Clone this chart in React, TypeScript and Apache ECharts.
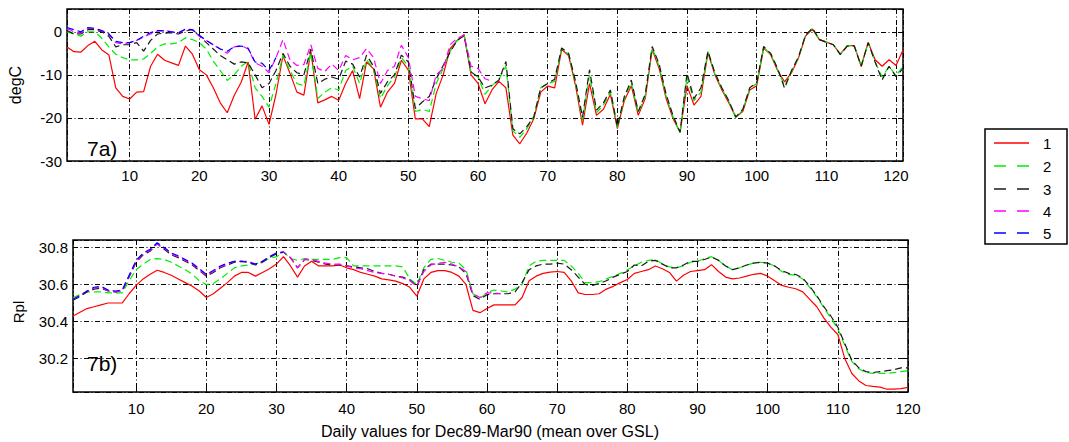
import React, { useEffect, useRef } from "react";
import * as echarts from "echarts";

// ---------- data ----------
// 7a) temperature (degC), days 1..121
const temp1: (number | null)[] = [
  -3.5, -4.6, -4.7, -3.2, -2.2, -4.2, -5.3, -13.0, -15.0, -15.6,
  -14.0, -13.9, -8.0, -5.2, -6.6, -7.2, -7.8, -3.3, -5.2, -8.8,
  -10.0, -13.0, -16.5, -18.8, -14.8, -11.7, -7.0, -20.3, -17.2, -21.5,
  -14.5, -5.5, -9.6, -14.0, -14.7, -4.5, -16.5, -15.8, -15.0, -15.9,
  -12.0, -9.0, -15.5, -7.0, -8.6, -17.5, -14.0, -12.0, -6.6, -8.9,
  -20.2, -20.2, -22.0, -14.3, -10.0, -3.9, -2.0, -0.6, -10.0, -12.0,
  -16.7, -13.5, -11.5, -13.0, -24.0, -26.0, -23.5, -20.2, -14.0, -12.6,
  -13.0, -4.1, -5.5, -12.5, -21.7, -12.0, -19.4, -18.0, -14.5, -22.5,
  -16.0, -12.5, -19.4, -15.5, -4.1, -8.5, -15.5, -20.2, -23.3, -12.5,
  -17.0, -15.0, -4.9, -10.0, -13.5, -16.5, -19.8, -18.5, -13.5, -12.5,
  -3.8, -5.3, -9.0, -11.6, -9.5, -6.1, -1.0, 0.6, -1.8, -2.4,
  -3.0, -5.2, -3.2, -3.2, -8.0, -2.5, -6.5, -8.0, -6.5, -7.8,
  -4.2,
];
const temp2: (number | null)[] = [
  0.0, -0.5, -1.0, 0.0, 0.0, -1.5, -3.5, -5.2, -6.0, -6.5,
  -6.5, -6.3, -5.0, -3.5, -2.8, -2.8, -2.5, -1.4, -1.8, -2.5,
  -4.0, -6.8, -9.0, -11.3, -10.0, -8.0, -6.9, -13.0, -15.0, -17.5,
  -12.0, -5.5, -9.0, -12.0, -12.5, -4.8, -15.5, -14.0, -13.0, -13.5,
  -9.0, -8.0, -12.0, -6.5, -8.5, -15.5, -12.5, -10.5, -6.0, -8.0,
  -18.5, -18.0, -18.5, -12.0, -8.5, -4.5, -2.0, -0.8, -9.5, -10.5,
  -14.5, -12.5, -11.0, -8.0, -23.0, -24.5, -22.5, -19.8, -13.0, -12.0,
  -11.5, -4.0, -5.2, -12.0, -20.5, -10.0, -18.8, -17.0, -14.0, -22.3,
  -15.5, -11.8, -18.8, -15.0, -3.8, -8.0, -15.0, -19.8, -23.5, -10.5,
  -16.0, -14.0, -4.6, -9.8, -13.2, -16.2, -20.0, -18.2, -13.2, -12.0,
  -3.6, -5.2, -8.8, -12.5, -9.2, -6.0, -0.9, 0.8, -1.8, -2.4,
  -3.0, -5.2, -3.2, -3.2, -8.0, -2.5, -7.0, -10.5, -8.0, -10.2,
  -8.0,
];
const temp3: (number | null)[] = [
  0.3, -0.5, -0.5, 0.5, 0.5, 0.0, -1.0, -3.5, -3.0, -3.0,
  -2.5, -4.5, -2.0, -0.5, -0.3, -0.2, -0.5, 0.2, 0.5, -1.0,
  -2.5, -4.0, -5.5, -6.5, -7.5, -7.0, -7.2, -10.0, -13.0, -12.0,
  -9.0, -5.0, -8.0, -9.5, -10.0, -4.0, -12.0, -11.0, -10.5, -11.0,
  -6.8, -7.5, -10.5, -5.4, -8.0, -14.3, -11.6, -10.0, -5.4, -7.0,
  -17.8, -16.3, -15.0, -10.9, -7.8, -4.7, -2.0, -0.9, -9.3, -10.5,
  -13.0, -12.4, -11.2, -6.9, -22.5, -23.7, -22.0, -19.8, -13.0, -12.0,
  -11.0, -3.75, -5.0, -11.5, -19.8, -8.8, -18.2, -16.5, -13.5, -22.0,
  -15.0, -11.2, -18.5, -14.5, -3.4, -7.5, -14.5, -19.5, -23.3, -9.6,
  -15.5, -13.0, -4.5, -9.5, -13.0, -16.0, -19.8, -18.0, -13.0, -11.8,
  -3.4, -5.0, -8.5, -13.1, -9.0, -5.8, -0.8, 0.9, -1.8, -2.4,
  -3.0, -5.3, -3.3, -3.3, -8.0, -2.5, -7.0, -11.2, -8.0, -10.4,
  -8.5,
];
const temp4: (number | null)[] = [
  0.8, 0.0, -0.3, 0.8, 0.8, 0.2, -0.5, -2.5, -2.8, -2.5,
  -2.0, -1.2, -0.5, 0.2, 0.3, 0.0, -0.2, 0.5, 0.5, -1.0,
  -2.0, -3.0, -4.0, -5.0, -3.5, -3.2, -4.0, -7.2, -8.0, -9.5,
  -6.0, -1.8, -6.5, -7.8, -7.6, -3.0, -8.5, -9.2, -7.5, -9.0,
  -5.5, -6.5, -6.0, -3.9, -6.0, -12.0, -9.0, -8.0, -3.1, -6.0,
  -15.0, -15.5, -16.0, -10.0, -8.5, -3.0, -1.5, -0.8, -8.0, -8.5,
  -10.9, -11.5,
];
const temp5: (number | null)[] = [
  1.0, 0.5, 0.0, 1.0, 0.8, 0.3, -0.5, -2.2, -2.5, -2.5,
  -2.0, -1.0, -0.2, 0.3, 0.2, 0.0, -0.2, 0.6, 0.5, -0.8,
  -2.0, -3.0, -4.0, -4.5, -3.5, -3.3, -3.8, -7.0, -7.3, -9.0,
  -6.0,
];

// 7b) salinity (Rpl), days 1..120
const sal1: (number | null)[] = [
  30.43, 30.45, 30.47, 30.48, 30.49, 30.5, 30.5, 30.5, 30.55, 30.595,
  30.63, 30.655, 30.677, 30.665, 30.65, 30.63, 30.61, 30.59, 30.565, 30.53,
  30.55, 30.58, 30.61, 30.645, 30.665, 30.665, 30.645, 30.665, 30.685, 30.71,
  30.75, 30.7, 30.64, 30.7, 30.725, 30.7, 30.7, 30.7, 30.705, 30.69,
  30.68, 30.665, 30.655, 30.645, 30.63, 30.625, 30.618, 30.605, 30.585, 30.537,
  30.63, 30.665, 30.675, 30.675, 30.665, 30.645, 30.6, 30.46, 30.448, 30.47,
  30.49, 30.49, 30.49, 30.49, 30.53, 30.62, 30.645, 30.66, 30.667, 30.67,
  30.665, 30.62, 30.555, 30.546, 30.546, 30.55, 30.575, 30.59, 30.61, 30.627,
  30.66, 30.67, 30.68, 30.7, 30.685, 30.665, 30.618, 30.65, 30.67, 30.675,
  30.68, 30.707, 30.67, 30.64, 30.63, 30.635, 30.645, 30.655, 30.66, 30.645,
  30.62, 30.595, 30.585, 30.577, 30.56, 30.52, 30.48, 30.42, 30.37, 30.33,
  30.2, 30.12, 30.08, 30.055, 30.05, 30.046, 30.035, 30.036, 30.038, 30.045,
];
const sal2: (number | null)[] = [
  30.53, 30.545, 30.56, 30.56, 30.56, 30.555, 30.555, 30.555, 30.62, 30.68,
  30.71, 30.735, 30.74, 30.735, 30.72, 30.7, 30.68, 30.655, 30.62, 30.6,
  30.605, 30.63, 30.66, 30.69, 30.7, 30.705, 30.71, 30.725, 30.74, 30.75,
  30.775, 30.74, 30.73, 30.74, 30.735, 30.735, 30.735, 30.735, 30.745, 30.745,
  30.7, 30.7, 30.7, 30.7, 30.7, 30.7, 30.7, 30.695, 30.63, 30.6,
  30.69, 30.735, 30.74, 30.73, 30.72, 30.715, 30.68, 30.55, 30.525, 30.555,
  30.57, 30.565, 30.56, 30.575, 30.6, 30.7, 30.725, 30.73, 30.73, 30.73,
  30.73, 30.7, 30.66, 30.61, 30.61, 30.615, 30.63, 30.645, 30.66, 30.68,
  30.7, 30.72, 30.73, 30.735, 30.71, 30.695, 30.69, 30.7, 30.72, 30.725,
  30.74, 30.75, 30.73, 30.7, 30.68, 30.69, 30.705, 30.715, 30.72, 30.715,
  30.7, 30.67, 30.655, 30.65, 30.63, 30.585, 30.535, 30.475, 30.42, 30.36,
  30.27, 30.185, 30.145, 30.125, 30.12, 30.12, 30.12, 30.125, 30.13, 30.135,
];
const sal3: (number | null)[] = [
  30.515, 30.535, 30.56, 30.575, 30.58, 30.565, 30.56, 30.565, 30.64, 30.72,
  30.76, 30.78, 30.82, 30.79, 30.76, 30.745, 30.725, 30.705, 30.675, 30.645,
  30.665, 30.69, 30.705, 30.72, 30.725, 30.72, 30.705, 30.72, 30.745, 30.765,
  30.775, 30.745, 30.69, 30.735, 30.73, 30.72, 30.71, 30.705, 30.705, 30.7,
  30.695, 30.69, 30.685, 30.67, 30.66, 30.655, 30.645, 30.64, 30.625, 30.59,
  30.68, 30.71, 30.71, 30.71, 30.705, 30.695, 30.66, 30.54, 30.52, 30.545,
  30.55, 30.55, 30.55, 30.56, 30.61, 30.68, 30.7, 30.71, 30.71, 30.715,
  30.71, 30.68, 30.64, 30.6, 30.595, 30.605, 30.62, 30.64, 30.655, 30.67,
  30.705, 30.7, 30.725, 30.73, 30.71, 30.69, 30.69, 30.705, 30.725, 30.725,
  30.735, 30.748, 30.73, 30.7, 30.68, 30.69, 30.705, 30.715, 30.72, 30.715,
  30.7, 30.675, 30.66, 30.654, 30.635, 30.59, 30.54, 30.48, 30.43, 30.37,
  30.28, 30.19, 30.15, 30.13, 30.125, 30.13, 30.135, 30.14, 30.15, 30.15,
];
const sal4: (number | null)[] = [
  30.52, 30.54, 30.565, 30.58, 30.585, 30.565, 30.56, 30.565, 30.645, 30.725,
  30.765, 30.785, 30.82, 30.795, 30.765, 30.75, 30.73, 30.71, 30.68, 30.65,
  30.67, 30.695, 30.71, 30.725, 30.725, 30.725, 30.71, 30.725, 30.75, 30.77,
  30.775, 30.745, 30.69, 30.735, 30.735, 30.725, 30.715, 30.71, 30.71, 30.7,
  30.69, 30.685, 30.675, 30.665, 30.66, 30.655, 30.645, 30.635, 30.62, 30.59,
  30.67, 30.705, 30.715, 30.72, 30.71, 30.695, 30.67, 30.55, 30.53, 30.555,
  30.555, 30.55,
];
const sal5: (number | null)[] = [
  30.52, 30.54, 30.565, 30.585, 30.59, 30.57, 30.565, 30.57, 30.65, 30.73,
  30.77, 30.79, 30.825, 30.8, 30.77, 30.755, 30.735, 30.715, 30.685, 30.655,
  30.675, 30.7, 30.715, 30.725, 30.725, 30.72, 30.71, 30.725, 30.75, 30.77,
  30.775,
];

const seriesNames = ["1", "2", "3", "4", "5"];
const seriesColors = ["#ff0000", "#00ee00", "#1a1a1a", "#ff00ff", "#0000ff"];
const tempSeries = [temp1, temp2, temp3, temp4, temp5];
const salSeries = [sal1, sal2, sal3, sal4, sal5];

const xTitle = "Daily values for Dec89-Mar90 (mean over GSL)";
const topYName = "degC";
const bottomYName = "Rpl";
const panelLabels = ["7a)", "7b)"];

const FONT = "'Liberation Sans', Arial, Helvetica, sans-serif";

export default function App() {
  const ref = useRef<HTMLDivElement>(null);

  useEffect(() => {
    if (!ref.current) return;
    const chart = echarts.init(ref.current, undefined, { renderer: "svg" });

    const gridLine = {
      show: true,
      lineStyle: { color: "#000", width: 1, type: [5, 2.5, 1, 2.5] as any },
    };
    const tick = { show: true, inside: true, length: 5, lineStyle: { color: "#000", width: 1 } };
    const lbl = { color: "#000", fontSize: 15, fontFamily: FONT };

    const toPairs = (vals: (number | null)[]) => vals.map((v, i) => [i + 1, v]);

    const series: any[] = [];
    tempSeries.forEach((vals, k) => {
      series.push({
        type: "line",
        name: seriesNames[k],
        xAxisIndex: 0,
        yAxisIndex: 0,
        data: toPairs(vals),
        showSymbol: false,
        symbol: "none",
        lineStyle: { color: seriesColors[k], width: 1.2, type: k === 0 ? "solid" : [7, 4] },
        z: 2 + k,
      });
    });
    salSeries.forEach((vals, k) => {
      series.push({
        type: "line",
        name: seriesNames[k],
        xAxisIndex: 1,
        yAxisIndex: 1,
        data: toPairs(vals),
        showSymbol: false,
        symbol: "none",
        lineStyle: { color: seriesColors[k], width: 1.2, type: k === 0 ? "solid" : [7, 4] },
        z: 2 + k,
      });
    });

    const legendYs = [143, 166, 189, 211, 233];
    const legendGraphics: any[] = [
      {
        type: "rect",
        shape: { x: 985, y: 129, width: 82, height: 115 },
        style: { fill: "#fff", stroke: "#000", lineWidth: 1.5 },
      },
    ];
    seriesNames.forEach((n, k) => {
      legendGraphics.push({
        type: "line",
        shape: { x1: 994, y1: legendYs[k], x2: 1029, y2: legendYs[k] },
        style: {
          stroke: seriesColors[k],
          lineWidth: 1.3,
          lineDash: k === 0 ? null : [12, 11],
        },
      });
      legendGraphics.push({
        type: "text",
        x: 1043,
        y: legendYs[k],
        style: {
          text: n,
          fill: "#000",
          font: `15px ${FONT}`,
          align: "left",
          verticalAlign: "middle",
          textAlign: "left",
          textVerticalAlign: "middle",
        },
      });
    });

    const textEl = (text: string, x: number, y: number, size: number, align = "center", rot = 0) => ({
      type: "text",
      x,
      y,
      rotation: rot,
      style: {
        text,
        fill: "#000",
        font: `${size}px ${FONT}`,
        align,
        verticalAlign: "middle",
        textAlign: align,
        textVerticalAlign: "middle",
      },
    });

    chart.setOption({
      animation: false,
      backgroundColor: "#fff",
      grid: [
        { left: 67, top: 9, width: 836, height: 152, show: true, borderColor: "#000", borderWidth: 1.5, backgroundColor: "transparent" },
        { left: 73, top: 240, width: 835, height: 152, show: true, borderColor: "#000", borderWidth: 1.5, backgroundColor: "transparent" },
      ],
      xAxis: [
        {
          gridIndex: 0, type: "value", min: 1, max: 121, splitNumber: 12,
          axisLine: { show: false }, axisTick: tick,
          axisLabel: { ...lbl, margin: 7, showMinLabel: false, showMaxLabel: false },
          splitLine: gridLine,
        },
        {
          gridIndex: 1, type: "value", min: 1, max: 120, splitNumber: 12,
          axisLine: { show: false }, axisTick: tick,
          axisLabel: { ...lbl, margin: 9, showMinLabel: false, showMaxLabel: true },
          splitLine: gridLine,
        },
        {
          gridIndex: 0, type: "value", position: "top", min: 1, max: 121, splitNumber: 12,
          axisLine: { show: false }, axisTick: tick, axisLabel: { show: false }, splitLine: { show: false },
        },
        {
          gridIndex: 1, type: "value", position: "top", min: 1, max: 120, splitNumber: 12,
          axisLine: { show: false }, axisTick: tick, axisLabel: { show: false }, splitLine: { show: false },
        },
      ],
      yAxis: [
        {
          gridIndex: 0, type: "value", min: -30, max: 5.3, interval: 10,
          axisLine: { show: false }, axisTick: tick,
          axisLabel: { ...lbl, margin: 5, showMaxLabel: false },
          splitLine: gridLine,
        },
        {
          gridIndex: 1, type: "value", min: 30.02, max: 30.84, splitNumber: 4,
          axisLine: { show: false }, axisTick: tick,
          axisLabel: { ...lbl, margin: 5, showMinLabel: false, showMaxLabel: false, formatter: (v: number) => v.toFixed(1) },
          splitLine: gridLine,
        },
        {
          gridIndex: 0, type: "value", position: "right", min: -30, max: 5.3, interval: 10,
          axisLine: { show: false }, axisTick: tick, axisLabel: { show: false }, splitLine: { show: false },
        },
        {
          gridIndex: 1, type: "value", position: "right", min: 30.02, max: 30.84, splitNumber: 4,
          axisLine: { show: false }, axisTick: tick, axisLabel: { show: false }, splitLine: { show: false },
        },
      ],
      series,
      graphic: [
        ...legendGraphics,
        textEl(topYName, 15, 85, 16, "center", Math.PI / 2),
        textEl(bottomYName, 18, 312, 15, "center", Math.PI / 2),
        textEl(xTitle, 490, 431, 16, "center"),
        textEl(panelLabels[0], 87, 148, 21, "left"),
        textEl(panelLabels[1], 87, 363, 21, "left"),
      ],
    });

    return () => chart.dispose();
  }, []);

  return (
    <div
      ref={ref}
      style={{ position: "fixed", left: 0, top: 0, width: 1069, height: 442, background: "#fff" }}
    />
  );
}
